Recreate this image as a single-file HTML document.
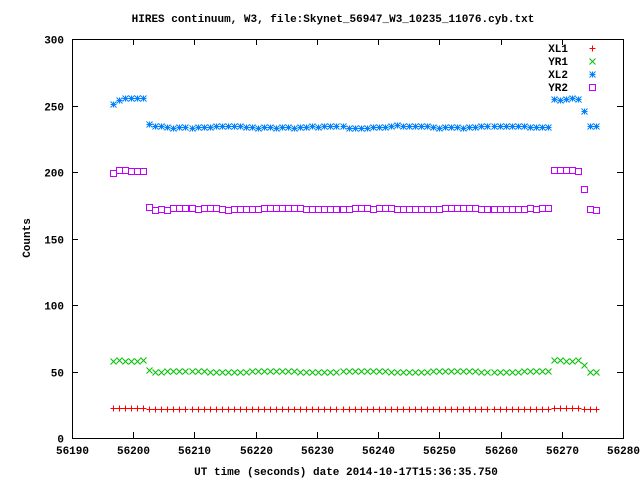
<!DOCTYPE html>
<html><head><meta charset="utf-8"><style>
html,body{margin:0;padding:0;background:#fff}
svg{display:block}
text{font-family:"Liberation Mono",monospace;font-size:11px;font-weight:bold;fill:#000}
</style></head><body>
<svg id="s" width="640" height="480" xmlns="http://www.w3.org/2000/svg">
<rect width="640" height="480" fill="#fff"/>
<text x="333" y="22" text-anchor="middle">HIRES continuum, W3, file:Skynet_56947_W3_10235_11076.cyb.txt</text>
<text x="0" y="0" text-anchor="middle" transform="translate(30,238) rotate(-90)">Counts</text>
<text x="346" y="475" text-anchor="middle">UT time (seconds) date 2014-10-17T15:36:35.750</text>
<g id="ax" stroke="#000" stroke-width="1" fill="none"></g>
<g id="tl"></g>
<g id="pts" fill="none" stroke-width="1"></g>
<g>
<text x="568" y="52" text-anchor="end">XL1</text>
<text x="568" y="65" text-anchor="end">YR1</text>
<text x="568" y="78" text-anchor="end">XL2</text>
<text x="568" y="91" text-anchor="end">YR2</text>
</g>
</svg>
<script>
var L=72,R=623,T=39,B=438;
var ns="http://www.w3.org/2000/svg";
function el(p,t,a){var e=document.createElementNS(ns,t);for(var k in a)e.setAttribute(k,a[k]);p.appendChild(e);return e;}
var ax=document.getElementById('ax'),tl=document.getElementById('tl'),pts=document.getElementById('pts');
el(ax,'rect',{x:L+.5,y:T+.5,width:R-L,height:B-T});
function X(t){return L+(t-56190)*(R-L)/90;}
function Y(v){return B-v*(B-T)/300;}
for(var v=0;v<=300;v+=50){var y=Math.round(Y(v))+.5;
 el(ax,'path',{d:'M'+L+' '+y+'h6M'+R+' '+y+'h-6'});
 var t=el(tl,'text',{x:64,y:y+4,'text-anchor':'end'});t.textContent=v;}
for(var s=56190;s<=56280;s+=10){var x=Math.round(X(s))+.5;
 el(ax,'path',{d:'M'+x+' '+B+'v-6M'+x+' '+T+'v6'});
 var t=el(tl,'text',{x:x,y:B+16,'text-anchor':'middle'});t.textContent=s;}
function plus(x,y,c){el(pts,'path',{d:'M'+(x-3)+' '+y+'h6M'+x+' '+(y-3)+'v6',stroke:c});}
function cross(x,y,c){el(pts,'path',{d:'M'+(x-3)+' '+(y-3)+'l6 6M'+(x-3)+' '+(y+3)+'l6 -6',stroke:c});}
function star(x,y,c){el(pts,'path',{d:'M'+(x-3)+' '+y+'h6M'+x+' '+(y-3)+'v6M'+(x-3)+' '+(y-3)+'l6 6M'+(x-3)+' '+(y+3)+'l6 -6',stroke:c});}
function box(x,y,c){el(pts,'rect',{x:x-3,y:y-3,width:6,height:6,stroke:c});}
function n(i,k){return Math.sin(i*12.9898+k*78.233)*43758.5453%1;}
for(var i=0;i<=80;i++){
 var x=Math.round(113+i*6.04)+.5;
 var hi=(i<=5)||(i>=73&&i<=77), tr=(i==78);
 var a=hi?22.7:(tr?22:22), b=hi?58.5:(tr?55:50), c=hi?255:(tr?245:234), d=hi?201:(tr?188:172.5);
 if(i==0){c=252;d=199;b=57.5;}
 if(i==6){c=235.5;d=174;b=51;}
 plus(x,Math.round(Y(a))+.5,'#ff0000');
 cross(x,Math.round(Y(b+n(i,1)*0.6))+.5,'#00c000');
 star(x,Math.round(Y(c+n(i,2)*1.0))+.5,'#0080ff');
 box(x,Math.round(Y(d+n(i,3)*0.8))+.5,'#c000ff');
}
plus(592.5,48.5,'#ff0000');cross(592.5,61.5,'#00c000');star(592.5,74.5,'#0080ff');box(592.5,87.5,'#c000ff');
</script>
</body></html>
